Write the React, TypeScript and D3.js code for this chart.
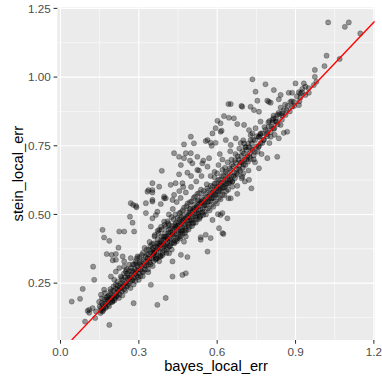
import React from 'react';
import * as d3 from 'd3';

// values, [bayes_local_err, stein_local_err]
const lowLeft: [number, number][] = [
  [0.043, 0.183], [0.075, 0.193], [0.085, 0.229], [0.104, 0.149], [0.123, 0.159], [0.136, 0.147],
  [0.094, 0.110], [0.125, 0.310], [0.129, 0.262], [0.161, 0.147], [0.187, 0.098], [0.110, 0.142],
  [0.110, 0.153], [0.133, 0.123], [0.155, 0.159], [0.155, 0.208], [0.167, 0.226], [0.180, 0.201],
  [0.193, 0.220], [0.200, 0.183], [0.206, 0.262], [0.212, 0.244], [0.219, 0.226], [0.231, 0.274],
  [0.238, 0.250], [0.250, 0.292], [0.257, 0.268], [0.263, 0.317], [0.244, 0.310], [0.225, 0.305],
  [0.212, 0.292], [0.193, 0.274], [0.280, 0.177],
];

const upperLeft: [number, number][] = [
  [0.161, 0.444], [0.167, 0.416], [0.187, 0.404], [0.200, 0.333], [0.177, 0.356], [0.196, 0.353],
  [0.212, 0.335], [0.238, 0.347], [0.244, 0.329], [0.269, 0.341], [0.295, 0.347], [0.225, 0.438],
  [0.244, 0.438], [0.222, 0.379], [0.269, 0.541], [0.289, 0.531], [0.266, 0.492], [0.276, 0.470],
  [0.327, 0.541], [0.337, 0.589], [0.352, 0.589], [0.384, 0.538], [0.403, 0.559], [0.327, 0.505],
  [0.278, 0.535], [0.291, 0.526], [0.352, 0.547], [0.352, 0.580], [0.333, 0.583], [0.397, 0.559],
  [0.429, 0.553], [0.435, 0.571], [0.365, 0.498], [0.397, 0.474], [0.416, 0.462], [0.346, 0.456],
  [0.378, 0.444], [0.282, 0.438], [0.212, 0.356], [0.352, 0.553], [0.397, 0.565], [0.371, 0.510],
  [0.352, 0.486],
];

const upperMid: [number, number][] = [
  [0.352, 0.614], [0.378, 0.601], [0.422, 0.608], [0.441, 0.614], [0.467, 0.614], [0.388, 0.659],
  [0.454, 0.646], [0.486, 0.652], [0.505, 0.686], [0.543, 0.686], [0.569, 0.705], [0.435, 0.723],
  [0.454, 0.710], [0.473, 0.705], [0.499, 0.723], [0.480, 0.723], [0.496, 0.696], [0.524, 0.710],
  [0.547, 0.696], [0.461, 0.680], [0.524, 0.662], [0.563, 0.674], [0.473, 0.755], [0.511, 0.759],
  [0.556, 0.767], [0.579, 0.750], [0.499, 0.783], [0.563, 0.771], [0.575, 0.761], [0.594, 0.761],
  [0.633, 0.771], [0.652, 0.753], [0.671, 0.777], [0.582, 0.795], [0.613, 0.801], [0.617, 0.805],
  [0.594, 0.814], [0.613, 0.832], [0.601, 0.841], [0.626, 0.858], [0.645, 0.852], [0.664, 0.850],
  [0.677, 0.829], [0.652, 0.902], [0.693, 0.895], [0.728, 0.892], [0.643, 0.902], [0.798, 0.910],
  [0.735, 0.992], [0.785, 0.974], [0.817, 0.953], [0.747, 0.947], [0.843, 0.935], [0.874, 0.943],
  [0.754, 0.914], [0.792, 0.914], [0.805, 0.907], [0.836, 0.919], [0.696, 0.892], [0.741, 0.880],
  [0.760, 0.874], [0.843, 0.889], [0.830, 0.862], [0.849, 0.868], [0.766, 0.838], [0.811, 0.844],
  [0.824, 0.838], [0.843, 0.826], [0.817, 0.814], [0.703, 0.826], [0.722, 0.807], [0.747, 0.814],
  [0.728, 0.789], [0.760, 0.783], [0.792, 0.801], [0.779, 0.771], [0.735, 0.795], [0.766, 0.795],
  [0.805, 0.783], [0.728, 0.771], [0.703, 0.759], [0.760, 0.749], [0.710, 0.745], [0.690, 0.760],
  [0.590, 0.655], [0.605, 0.680], [0.620, 0.700], [0.640, 0.690], [0.575, 0.640], [0.600, 0.650],
  [0.630, 0.670], [0.655, 0.700], [0.670, 0.720], [0.685, 0.740], [0.700, 0.770], [0.650, 0.730],
  [0.610, 0.720], [0.540, 0.640], [0.520, 0.620], [0.500, 0.600], [0.480, 0.580], [0.460, 0.560],
  [0.445, 0.545], [0.430, 0.520], [0.415, 0.500], [0.500, 0.640], [0.530, 0.660], [0.470, 0.600],
  [0.455, 0.585],
];

const belowLine: [number, number][] = [
  [0.403, 0.196], [0.371, 0.171], [0.346, 0.244], [0.429, 0.274], [0.467, 0.280], [0.480, 0.286],
  [0.486, 0.345], [0.563, 0.365], [0.537, 0.408], [0.575, 0.414], [0.620, 0.432], [0.582, 0.480],
  [0.603, 0.501], [0.613, 0.498], [0.624, 0.429], [0.339, 0.371], [0.358, 0.359], [0.384, 0.347],
  [0.416, 0.359], [0.429, 0.329], [0.461, 0.353], [0.473, 0.401], [0.480, 0.420], [0.461, 0.434],
  [0.620, 0.505], [0.607, 0.450], [0.639, 0.486], [0.652, 0.559], [0.658, 0.620], [0.556, 0.426],
  [0.537, 0.417], [0.731, 0.595], [0.677, 0.575], [0.643, 0.559], [0.706, 0.620], [0.694, 0.632],
  [0.677, 0.604], [0.830, 0.710], [0.792, 0.705], [0.760, 0.668], [0.696, 0.638], [0.722, 0.626],
  [0.658, 0.601], [0.855, 0.797], [0.836, 0.777], [0.868, 0.801], [0.720, 0.660], [0.700, 0.650],
  [0.745, 0.690], [0.770, 0.720], [0.800, 0.760], [0.820, 0.790], [0.740, 0.700],
];

const topRight: [number, number][] = [
  [1.025, 1.199], [1.089, 1.183], [1.104, 1.199], [1.148, 1.159], [1.019, 1.078], [1.011, 1.040],
  [1.069, 1.066], [0.974, 1.026], [0.974, 1.001], [0.980, 0.983], [0.970, 0.971], [0.900, 0.977],
  [0.938, 0.965], [0.926, 0.957], [0.913, 0.945], [0.951, 0.943], [0.887, 0.943], [0.932, 0.977],
  [0.919, 0.941], [0.894, 0.910], [0.887, 0.892], [0.913, 0.898], [0.919, 0.926], [0.800, 0.840],
  [0.815, 0.850], [0.835, 0.870], [0.850, 0.860], [0.865, 0.880], [0.880, 0.910], [0.860, 0.900],
];

const coreLow: [number, number][] = [
  [0.150, 0.165], [0.155, 0.150], [0.158, 0.178], [0.162, 0.170], [0.165, 0.158], [0.168, 0.190],
  [0.170, 0.176], [0.173, 0.165], [0.176, 0.198], [0.178, 0.183], [0.182, 0.172], [0.185, 0.205],
  [0.188, 0.192], [0.190, 0.180], [0.193, 0.210], [0.196, 0.199], [0.199, 0.188], [0.202, 0.222],
  [0.205, 0.205], [0.208, 0.195], [0.211, 0.230], [0.214, 0.214], [0.217, 0.204], [0.220, 0.240],
  [0.223, 0.221], [0.226, 0.210], [0.229, 0.248], [0.232, 0.232], [0.235, 0.220], [0.238, 0.262],
  [0.241, 0.240], [0.244, 0.228], [0.247, 0.272], [0.250, 0.250],
  [0.252, 0.238], [0.255, 0.285], [0.257, 0.262], [0.260, 0.248], [0.262, 0.296], [0.265, 0.270],
  [0.267, 0.255], [0.270, 0.305], [0.272, 0.280], [0.274, 0.262], [0.277, 0.318], [0.279, 0.290],
  [0.281, 0.270], [0.284, 0.300], [0.286, 0.283], [0.288, 0.330], [0.291, 0.296], [0.293, 0.278],
  [0.295, 0.312], [0.298, 0.300], [0.300, 0.285], [0.302, 0.345], [0.305, 0.318], [0.307, 0.298],
  [0.309, 0.330], [0.312, 0.312], [0.314, 0.292], [0.316, 0.360], [0.319, 0.335], [0.321, 0.315],
  [0.323, 0.300], [0.326, 0.345], [0.328, 0.328], [0.330, 0.372], [0.333, 0.340], [0.335, 0.318],
  [0.337, 0.355], [0.340, 0.338], [0.342, 0.325], [0.344, 0.385], [0.347, 0.360], [0.349, 0.340],
  [0.351, 0.372], [0.354, 0.350], [0.356, 0.330], [0.300, 0.262], [0.315, 0.275], [0.335, 0.300],
  [0.280, 0.245], [0.290, 0.320],
];

const coreMid: [number, number][] = [
  [0.358, 0.395], [0.360, 0.368], [0.362, 0.350], [0.365, 0.382], [0.367, 0.362], [0.369, 0.340],
  [0.372, 0.410], [0.374, 0.385], [0.376, 0.365], [0.379, 0.395], [0.381, 0.375], [0.383, 0.350],
  [0.386, 0.420], [0.388, 0.398], [0.390, 0.378], [0.393, 0.408], [0.395, 0.390], [0.397, 0.368],
  [0.400, 0.432], [0.402, 0.410], [0.404, 0.392], [0.407, 0.420], [0.409, 0.400], [0.411, 0.380],
  [0.414, 0.445], [0.416, 0.425], [0.418, 0.405], [0.421, 0.435], [0.423, 0.412], [0.425, 0.395],
  [0.428, 0.458], [0.430, 0.438], [0.432, 0.418], [0.435, 0.448], [0.437, 0.428], [0.439, 0.405],
  [0.442, 0.470], [0.444, 0.450], [0.446, 0.430], [0.449, 0.460], [0.360, 0.420], [0.372, 0.440],
  [0.385, 0.455], [0.398, 0.462], [0.410, 0.475], [0.425, 0.490], [0.440, 0.500], [0.365, 0.335],
  [0.378, 0.345], [0.392, 0.360], [0.405, 0.372], [0.420, 0.385], [0.434, 0.398], [0.447, 0.412],
  [0.355, 0.378], [0.383, 0.402], [0.412, 0.432], [0.438, 0.462], [0.370, 0.395], [0.400, 0.418],
  [0.451, 0.440], [0.453, 0.418], [0.456, 0.482], [0.458, 0.462], [0.460, 0.442], [0.463, 0.472],
  [0.465, 0.452], [0.467, 0.430], [0.470, 0.495], [0.472, 0.475], [0.474, 0.455], [0.477, 0.485],
  [0.479, 0.465], [0.481, 0.442], [0.484, 0.508], [0.486, 0.488], [0.488, 0.468], [0.491, 0.498],
  [0.493, 0.478], [0.495, 0.455], [0.498, 0.522], [0.500, 0.500], [0.502, 0.480], [0.505, 0.512],
  [0.507, 0.492], [0.509, 0.468], [0.512, 0.535], [0.514, 0.515], [0.516, 0.494], [0.519, 0.525],
  [0.521, 0.505], [0.523, 0.482], [0.526, 0.548], [0.528, 0.528], [0.530, 0.508], [0.533, 0.540],
  [0.535, 0.518], [0.537, 0.495], [0.540, 0.562], [0.542, 0.542], [0.544, 0.520], [0.547, 0.552],
  [0.549, 0.532], [0.455, 0.505], [0.468, 0.515], [0.482, 0.530], [0.496, 0.545], [0.510, 0.560],
  [0.524, 0.575], [0.538, 0.590], [0.460, 0.420], [0.476, 0.432], [0.490, 0.445], [0.504, 0.458],
  [0.518, 0.470], [0.532, 0.484], [0.546, 0.498], [0.462, 0.490], [0.495, 0.520], [0.527, 0.552],
];

const coreHigh: [number, number][] = [
  [0.551, 0.510], [0.554, 0.575], [0.556, 0.555], [0.558, 0.533], [0.561, 0.565], [0.563, 0.545],
  [0.565, 0.522], [0.568, 0.588], [0.570, 0.568], [0.572, 0.548], [0.575, 0.578], [0.577, 0.558],
  [0.579, 0.535], [0.582, 0.600], [0.584, 0.580], [0.586, 0.560], [0.589, 0.590], [0.591, 0.570],
  [0.593, 0.548], [0.596, 0.614], [0.598, 0.594], [0.600, 0.572], [0.603, 0.603], [0.605, 0.583],
  [0.607, 0.560], [0.610, 0.626], [0.612, 0.606], [0.614, 0.585], [0.617, 0.615], [0.619, 0.595],
  [0.621, 0.572], [0.624, 0.640], [0.626, 0.618], [0.628, 0.598], [0.631, 0.628], [0.633, 0.608],
  [0.635, 0.585], [0.638, 0.650], [0.640, 0.630], [0.643, 0.612], [0.645, 0.638], [0.648, 0.618],
  [0.560, 0.610], [0.590, 0.635], [0.620, 0.662],
  [0.652, 0.662], [0.655, 0.640], [0.658, 0.620], [0.662, 0.675], [0.665, 0.652], [0.668, 0.632],
  [0.672, 0.688], [0.675, 0.665], [0.678, 0.645], [0.682, 0.700], [0.685, 0.678], [0.688, 0.658],
  [0.692, 0.712], [0.695, 0.690], [0.698, 0.670], [0.702, 0.722], [0.705, 0.700], [0.708, 0.680],
  [0.712, 0.735], [0.715, 0.712], [0.718, 0.692], [0.722, 0.745], [0.725, 0.722], [0.728, 0.702],
  [0.732, 0.758], [0.736, 0.735], [0.740, 0.715], [0.745, 0.770], [0.750, 0.748], [0.755, 0.728],
  [0.760, 0.782], [0.766, 0.760], [0.772, 0.795], [0.778, 0.772], [0.785, 0.808],
  [0.792, 0.785], [0.798, 0.820], [0.805, 0.800], [0.812, 0.835], [0.818, 0.812], [0.825, 0.850],
  [0.832, 0.828], [0.840, 0.865], [0.848, 0.845], [0.855, 0.880], [0.862, 0.862], [0.870, 0.895],
  [0.878, 0.875], [0.886, 0.912], [0.895, 0.895], [0.905, 0.930], [0.915, 0.912], [0.925, 0.945],
  [0.938, 0.935], [0.950, 0.960],
];

const coreSpread: [number, number][] = [
  [0.148, 0.182], [0.153, 0.141], [0.159, 0.195], [0.164, 0.152], [0.171, 0.214], [0.174, 0.160],
  [0.181, 0.190], [0.186, 0.166], [0.191, 0.228], [0.197, 0.181], [0.203, 0.238], [0.207, 0.188],
  [0.213, 0.201], [0.218, 0.255], [0.224, 0.196], [0.228, 0.235], [0.234, 0.268], [0.237, 0.205],
  [0.243, 0.285], [0.248, 0.222], [0.253, 0.300], [0.258, 0.240], [0.263, 0.278], [0.268, 0.232],
  [0.273, 0.295], [0.278, 0.262], [0.283, 0.318], [0.287, 0.258], [0.292, 0.340], [0.297, 0.272],
  [0.303, 0.325], [0.306, 0.276], [0.311, 0.352], [0.317, 0.290], [0.322, 0.378], [0.327, 0.312],
  [0.331, 0.355], [0.336, 0.290], [0.341, 0.400], [0.345, 0.318], [0.350, 0.392], [0.353, 0.312],
  [0.357, 0.360], [0.361, 0.425], [0.366, 0.340], [0.371, 0.378], [0.375, 0.432], [0.378, 0.330],
  [0.382, 0.390], [0.387, 0.445], [0.391, 0.352], [0.394, 0.418], [0.399, 0.385], [0.403, 0.455],
  [0.406, 0.360], [0.410, 0.412], [0.413, 0.468], [0.417, 0.385], [0.422, 0.448], [0.426, 0.372],
  [0.429, 0.428], [0.433, 0.482], [0.436, 0.395], [0.441, 0.455], [0.445, 0.402], [0.448, 0.488],
  [0.452, 0.470], [0.457, 0.412], [0.461, 0.508], [0.466, 0.440], [0.469, 0.478], [0.473, 0.525],
  [0.478, 0.448], [0.483, 0.490], [0.487, 0.540], [0.490, 0.462], [0.494, 0.505], [0.499, 0.478],
  [0.503, 0.548], [0.506, 0.470], [0.511, 0.520], [0.515, 0.565], [0.518, 0.488], [0.522, 0.530],
  [0.527, 0.502], [0.531, 0.578], [0.534, 0.490], [0.539, 0.545], [0.543, 0.508], [0.548, 0.585],
  [0.552, 0.535], [0.557, 0.500], [0.562, 0.595], [0.566, 0.548], [0.571, 0.515], [0.576, 0.605],
  [0.580, 0.560], [0.585, 0.528], [0.590, 0.612], [0.594, 0.575], [0.599, 0.540], [0.604, 0.625],
  [0.609, 0.590], [0.613, 0.555], [0.618, 0.640], [0.623, 0.600], [0.627, 0.570], [0.632, 0.655],
  [0.637, 0.612], [0.642, 0.590], [0.647, 0.668], [0.651, 0.625], [0.657, 0.682], [0.663, 0.640],
  [0.669, 0.698], [0.674, 0.650], [0.679, 0.712], [0.684, 0.665], [0.690, 0.690], [0.696, 0.728],
  [0.701, 0.682], [0.707, 0.745], [0.713, 0.700], [0.719, 0.758], [0.724, 0.710], [0.731, 0.740],
  [0.738, 0.772], [0.744, 0.728], [0.752, 0.785], [0.758, 0.745], [0.765, 0.790], [0.773, 0.760],
  [0.781, 0.818], [0.789, 0.792], [0.796, 0.835], [0.808, 0.818], [0.816, 0.860], [0.827, 0.838],
];

const xTicks = [0, 0.3, 0.6, 0.9, 1.2];
const xMinor = [0.15, 0.45, 0.75, 1.05];
const yTicks = [0.25, 0.5, 0.75, 1.0, 1.25];
const yMinor = [0.125, 0.375, 0.625, 0.875, 1.125];

const points = [
  ...lowLeft, ...upperLeft, ...upperMid, ...belowLine, ...topRight,
  ...coreLow, ...coreMid, ...coreHigh, ...coreSpread,
];

const W = 382;
const H = 382;
const margin = { top: 7.3, right: 7.3, bottom: 42, left: 57.3 };
const font = '"Liberation Sans", Arial, Helvetica, sans-serif';

const expand = (ext: [number, number]) => {
  const pad = (ext[1] - ext[0]) * 0.05;
  return [ext[0] - pad, ext[1] + pad];
};

export default function App() {
  const pw = W - margin.left - margin.right;
  const ph = H - margin.top - margin.bottom;

  const x = d3.scaleLinear()
    .domain(expand(d3.extent(points, d => d[0]) as [number, number]))
    .range([0, pw]);
  const y = d3.scaleLinear()
    .domain(expand(d3.extent(points, d => d[1]) as [number, number]))
    .range([ph, 0]);

  const [x0, x1] = x.domain();
  const lo = Math.max(x0, y.domain()[0]);
  const hi = Math.min(x1, y.domain()[1]);
  const abline = d3.line<number>().x(d => x(d)).y(d => y(d))([lo, hi]) as string;

  return (
    <div style={{ position: 'absolute', left: 0, top: 0 }}>
      <svg width={W} height={H} style={{ display: 'block', background: '#fff' }}>
        <defs>
          <clipPath id="panel">
            <rect width={pw} height={ph} />
          </clipPath>
        </defs>
        <g transform={`translate(${margin.left},${margin.top})`}>
          <rect width={pw} height={ph} fill="#EBEBEB" />
          {xMinor.map(t => (
            <line key={'xm' + t} x1={x(t)} x2={x(t)} y1={0} y2={ph} stroke="#fff" strokeWidth={0.55} />
          ))}
          {yMinor.map(t => (
            <line key={'ym' + t} x1={0} x2={pw} y1={y(t)} y2={y(t)} stroke="#fff" strokeWidth={0.55} />
          ))}
          {xTicks.map(t => (
            <line key={'xg' + t} x1={x(t)} x2={x(t)} y1={0} y2={ph} stroke="#fff" strokeWidth={1.1} />
          ))}
          {yTicks.map(t => (
            <line key={'yg' + t} x1={0} x2={pw} y1={y(t)} y2={y(t)} stroke="#fff" strokeWidth={1.1} />
          ))}
          <g clipPath="url(#panel)">
            {points.map((d, i) => (
              <circle key={i} cx={x(d[0])} cy={y(d[1])} r={2.6}
                fill="#000" fillOpacity={0.38} stroke="#000" strokeOpacity={0.38} strokeWidth={0.6} />
            ))}
            <path d={abline} stroke="#FF0000" strokeWidth={1.3} fill="none" />
          </g>
          {xTicks.map(t => (
            <g key={'xt' + t} transform={`translate(${x(t)},${ph})`}>
              <line y2={3.7} stroke="#333" strokeWidth={1.07} />
              <text y={15.6} textAnchor="middle" fontFamily={font} fontSize={11.7} fill="#4D4D4D">
                {d3.format('.1f')(t)}
              </text>
            </g>
          ))}
          {yTicks.map(t => (
            <g key={'yt' + t} transform={`translate(0,${y(t)})`}>
              <line x2={-3.7} stroke="#333" strokeWidth={1.07} />
              <text x={-6.6} dy="0.35em" textAnchor="end" fontFamily={font} fontSize={11.7} fill="#4D4D4D">
                {d3.format('.2f')(t)}
              </text>
            </g>
          ))}
          <text x={pw / 2} y={ph + 31.5} textAnchor="middle" fontFamily={font} fontSize={14.7} fill="#000">
            bayes_local_err
          </text>
        </g>
        <text transform={`translate(23,${margin.top + ph / 2}) rotate(-90)`} textAnchor="middle"
          fontFamily={font} fontSize={14.7} fill="#000">
          stein_local_err
        </text>
      </svg>
    </div>
  );
}
